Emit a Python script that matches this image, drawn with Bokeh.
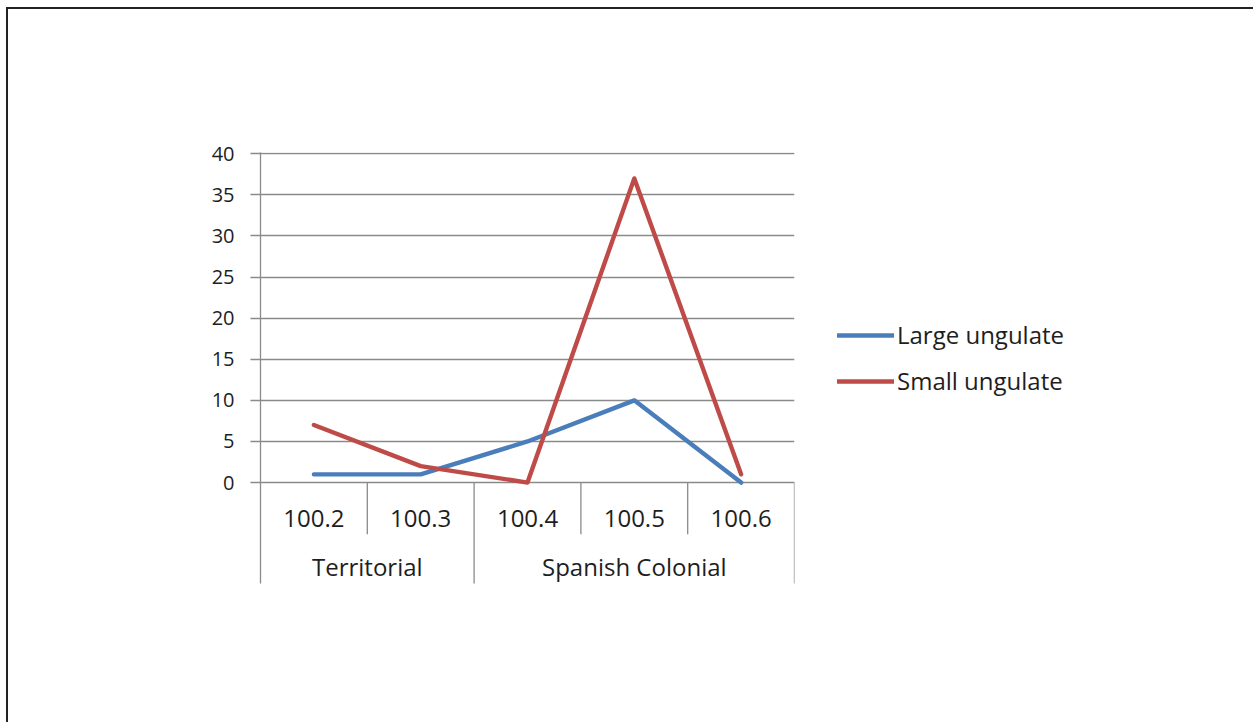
from bokeh.plotting import figure
from bokeh.models import FactorRange, Range1d, FixedTicker, Legend, LegendItem
from bokeh.embed import file_html
from bokeh.resources import INLINE
from bokeh.core.properties import value

# --- data -------------------------------------------------------------
periods = ["Territorial", "Territorial", "Spanish Colonial", "Spanish Colonial", "Spanish Colonial"]
contexts = ["100.2", "100.3", "100.4", "100.5", "100.6"]
large_ungulate = [1, 1, 5, 10, 0]
small_ungulate = [7, 2, 0, 37, 1]
y_ticks = [0, 5, 10, 15, 20, 25, 30, 35, 40]
series_names = ["Large ungulate", "Small ungulate"]

# --- styling -------------------------------------------------------------
FONT = "Open Sans"
BLUE = "#4a7ebb"
RED = "#be4b48"
GRID = "#8a8a8a"
TEXT = "#1e1e1e"

factors = list(zip(periods, contexts))
group_names = list(dict.fromkeys(periods))

# page frame (top/left borders) holds the chart; canvas origin on the page
OX, OY = 8, 9
PAGE_H = 722 - OY
frame_left, frame_right, frame_top, frame_bottom = 260 - OX, 794 - OX, 152 - OY, 583 - OY

p = figure(
    frame_width=frame_right - frame_left, frame_height=frame_bottom - frame_top,
    x_range=FactorRange(*factors, group_padding=0, factor_padding=0, range_padding=0),
    y_range=Range1d(-12.28, 40.15),
    x_axis_location=None,
    toolbar_location=None,
    output_backend="svg",
    min_border_left=frame_left, min_border_right=0,
    min_border_top=frame_top, min_border_bottom=PAGE_H - frame_bottom,
)
p.styles = {
    "margin-left": "6px", "margin-top": "7px",
    "border-left": "2px solid #222222", "border-top": "2px solid #222222",
}
p.outline_line_color = None
p.background_fill_color = "white"
p.border_fill_color = "white"

# y axis
ya = p.yaxis[0]
ya.ticker = FixedTicker(ticks=y_ticks)
ya.axis_line_color = GRID
ya.axis_line_width = 1.3
ya.major_tick_line_color = GRID
ya.major_tick_line_width = 1.3
ya.major_tick_out = 10
ya.major_tick_in = 0
ya.minor_tick_line_color = None
ya.major_label_standoff = 16
ya.major_label_text_font = FONT
ya.major_label_text_font_size = "20px"
ya.major_label_text_color = TEXT

p.xgrid.grid_line_color = None
p.ygrid.ticker = FixedTicker(ticks=y_ticks)
p.ygrid.grid_line_color = GRID
p.ygrid.grid_line_width = 1.3

# category separators below the zero line: short ones between contexts,
# full-height ones where the period changes and at the right end
sep_x, sep_bottom = [], []
for i in range(1, len(factors)):
    sep_x.append((periods[i], contexts[i], -0.5))
    sep_bottom.append(-12.6 if periods[i] != periods[i - 1] else -6.3)
sep_x.append((periods[-1], contexts[-1], 0.5))
sep_bottom.append(-12.6)
p.segment(x0=sep_x, y0=[0] * len(sep_x), x1=sep_x, y1=sep_bottom,
          line_color=GRID, line_width=1.3)

# category labels
p.text(x=factors, y=[-4.4] * len(factors), text=contexts,
       text_font=value(FONT), text_font_size="24px", text_color=TEXT,
       text_align="center", text_baseline="middle")
p.text(x=group_names, y=[-10.25] * len(group_names), text=group_names,
       text_font=value(FONT), text_font_size="24px", text_color=TEXT,
       text_align="center", text_baseline="middle")

# series
r_large = p.line(x=factors, y=large_ungulate, line_color=BLUE, line_width=4.4,
                 line_join="round", line_cap="round")
r_small = p.line(x=factors, y=small_ungulate, line_color=RED, line_width=4.4,
                 line_join="round", line_cap="round")

legend = Legend(
    items=[LegendItem(label=series_names[0], renderers=[r_large]),
           LegendItem(label=series_names[1], renderers=[r_small])],
    location=(43, 186),
    orientation="vertical",
    glyph_width=57, glyph_height=24,
    label_standoff=3, spacing=13,
    padding=0, margin=0,
    border_line_color=None, background_fill_alpha=0,
    label_text_font=FONT, label_text_font_size="24px", label_text_color=TEXT,
)
p.add_layout(legend, "right")

open("out.html", "w").write(file_html(p, INLINE))
